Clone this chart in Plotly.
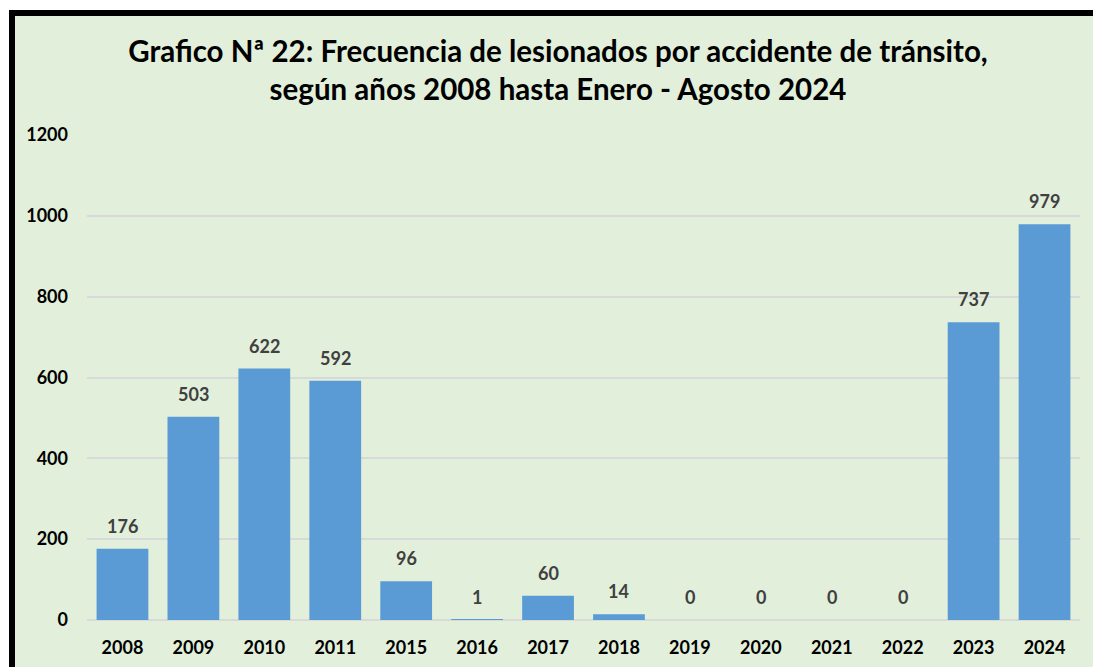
import plotly.graph_objects as go

years = ["2008", "2009", "2010", "2011", "2015", "2016", "2017", "2018",
         "2019", "2020", "2021", "2022", "2023", "2024"]
lesionados = [176, 503, 622, 592, 96, 1, 60, 14, 0, 0, 0, 0, 737, 979]
y_ticks = [0, 200, 400, 600, 800, 1000, 1200]

title_text = ("Grafico Nª 22: Frecuencia de lesionados por accidente de tránsito,"
              "<br>según años 2008 hasta Enero - Agosto 2024")

W, H = 1093, 667
ML, MR, MT, MB = 87, 13, 135, 47
PW, PH = W - ML - MR, H - MT - MB

def px_x(p):
    return (p - ML) / PW

def px_y(p):
    return (H - MB - p) / PH

fig = go.Figure()
fig.add_trace(go.Bar(
    x=years, y=lesionados,
    marker=dict(color="#5B9BD5", line=dict(width=0)),
    hoverinfo="x+y",
))

annotations = []
for i, v in enumerate(lesionados):
    annotations.append(dict(
        x=i, y=v, xref="x", yref="y", text=str(v), showarrow=False,
        yanchor="bottom", yshift=10,
        font=dict(family="Lato", size=18, color="#404040", weight="bold"),
    ))

shapes = [
    dict(type="rect", xref="paper", yref="paper", x0=px_x(0), x1=px_x(W),
         y0=px_y(10), y1=px_y(0), fillcolor="white", line=dict(width=0), layer="above"),
    dict(type="rect", xref="paper", yref="paper", x0=px_x(0), x1=px_x(9),
         y0=px_y(H), y1=px_y(0), fillcolor="white", line=dict(width=0), layer="above"),
    dict(type="rect", xref="paper", yref="paper", x0=px_x(9), x1=px_x(W),
         y0=px_y(16), y1=px_y(10), fillcolor="black", line=dict(width=0), layer="above"),
    dict(type="rect", xref="paper", yref="paper", x0=px_x(9), x1=px_x(15),
         y0=px_y(H), y1=px_y(10), fillcolor="black", line=dict(width=0), layer="above"),
]

fig.update_layout(
    width=W, height=H,
    margin=dict(l=ML, r=MR, t=MT, b=MB, pad=0, autoexpand=False),
    paper_bgcolor="#E2EFDA", plot_bgcolor="#E2EFDA",
    title=dict(text=title_text, x=558 / W, xref="container", xanchor="center",
               y=1 - 62 / H, yref="container", yanchor="top",
               font=dict(family="Lato", size=29.5, color="black", weight="bold")),
    bargap=0.27,
    showlegend=False,
    annotations=annotations,
    shapes=shapes,
    xaxis=dict(type="category", categoryorder="array", categoryarray=years,
               range=[-0.5, len(years) - 0.5], automargin=False,
               showgrid=False, zeroline=False, showline=False,
               ticks="", ticklabelstandoff=15,
               tickfont=dict(family="Lato", size=18, color="black", weight="bold")),
    yaxis=dict(range=[0, 1200], tickvals=y_ticks, showgrid=True, automargin=False,
               gridcolor="#D9D9D9", gridwidth=2, zeroline=True, zerolinecolor="#D9D9D9",
               zerolinewidth=2, showline=False, ticks="", ticklabelstandoff=18,
               tickfont=dict(family="Lato", size=18, color="black", weight="bold")),
)

fig.write_html("out.html", config={"displayModeBar": False},
               post_script="document.body.style.margin='0';document.body.style.padding='0';")
